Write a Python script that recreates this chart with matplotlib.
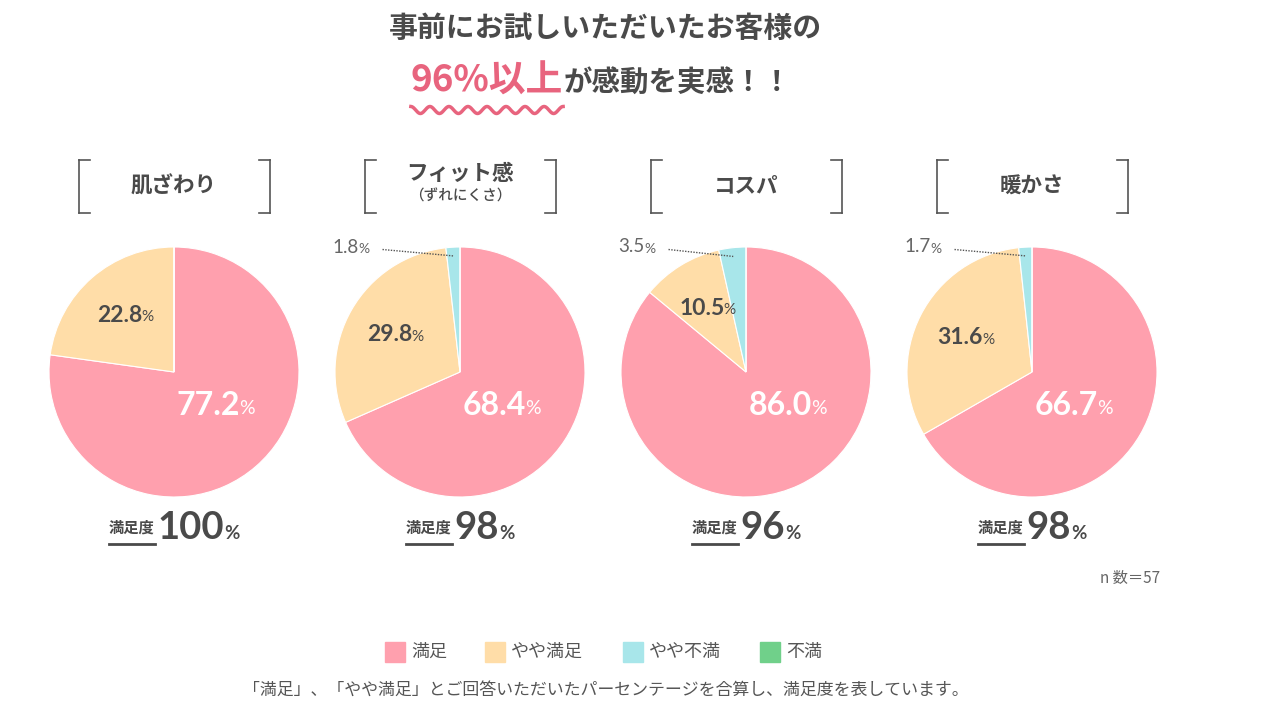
import numpy as np
import matplotlib
matplotlib.use('Agg')
import matplotlib.pyplot as plt

plt.rcParams['font.family'] = ['Noto Sans CJK JP', 'DejaVu Sans']

# data
categories = ['肌ざわり', 'フィット感', 'コスパ', '暖かさ']
subtitles = ['', '（ずれにくさ）', '', '']
answers = ['満足', 'やや満足', 'やや不満', '不満']
manzoku = [77.2, 68.4, 86.0, 66.7]
yaya_manzoku = [22.8, 29.8, 10.5, 31.6]
yaya_fuman = [0.0, 1.8, 3.5, 1.7]
fuman = [0.0, 0.0, 0.0, 0.0]
satisfaction = [100, 98, 96, 98]
n_count = 57

colors = ['#FFA0AE', '#FFDDA8', '#A8E6EA', '#70D08A']
dark = '#4a4a4a'
gray = '#666666'
pink_text = '#E8647E'

W, H = 1263, 728
fig = plt.figure(figsize=(W / 100, H / 100), dpi=100)
fig.patch.set_facecolor('white')
renderer = fig.canvas.get_renderer()


def fx(px):
    return px / W


def fy(py):
    return 1 - py / H


def chain(pieces, cx, y_px, center=True):
    """Draw text pieces left to right sharing a baseline; centre the group on cx."""
    arts = []
    for txt, kw in pieces:
        t = fig.text(0, fy(y_px), txt, va='baseline', ha='left', **kw)
        arts.append(t)
    widths = [a.get_window_extent(renderer).width for a in arts]
    total = sum(widths)
    x = cx - total / 2 if center else cx
    for a, w in zip(arts, widths):
        a.set_x(fx(x))
        x += w
    return arts


# title
fig.text(fx(605), fy(28), '事前にお試しいただいたお客様の', ha='center', va='center',
         fontsize=20.8, fontweight='bold', color=dark)
arts = chain([('96%以上', dict(fontsize=26.5, fontweight='bold', color=pink_text)),
              ('が感動を実感！！', dict(fontsize=20.5, fontweight='bold', color=dark))],
             601, 92)
x0 = arts[0].get_window_extent(renderer).x0
x1 = arts[0].get_window_extent(renderer).x1
wx = np.linspace(x0, x1, 400)
wy = 110 + 3.5 * np.sin((wx - x0) / (x1 - x0) * 2 * np.pi * 8 - np.pi / 2)
fig.add_artist(plt.Line2D(fx(wx), fy(wy), color=pink_text, lw=2.5))

centers = [174, 460, 746, 1032]
cy, R = 372, 125

for i, cx in enumerate(centers):
    # header with brackets
    for side in (-1, 1):
        bx = cx + side * 95.5
        fig.add_artist(plt.Line2D([fx(bx), fx(bx)], [fy(160), fy(213)], color='#555555', lw=1.2))
        for yy in (160, 213):
            fig.add_artist(plt.Line2D([fx(bx), fx(bx - side * 11)], [fy(yy), fy(yy)],
                                      color='#555555', lw=1.2))
    if subtitles[i]:
        fig.text(fx(cx), fy(173), categories[i], ha='center', va='center',
                 fontsize=15.5, fontweight='bold', color=dark)
        fig.text(fx(cx), fy(196), subtitles[i], ha='center', va='center',
                 fontsize=10.5, fontweight='medium', color=dark)
    else:
        fig.text(fx(cx), fy(186), categories[i], ha='center', va='center',
                 fontsize=15.5, fontweight='bold', color=dark)

    # pie
    ax = fig.add_axes([fx(cx - R), fy(cy + R), 2 * R / W, 2 * R / H])
    vals = [manzoku[i], yaya_manzoku[i], yaya_fuman[i], fuman[i]]
    wedges, _ = ax.pie(vals, colors=colors, startangle=90, counterclock=False,
                       wedgeprops=dict(edgecolor='white', linewidth=0.8))
    ax.set_xlim(-1, 1)
    ax.set_ylim(-1, 1)
    ax.set_aspect('equal')
    ax.axis('off')

    # 満足 label (white, fixed spot lower right)
    ax.text(0.53, -0.27, f'{manzoku[i]:.1f}', ha='right', va='center', fontsize=23,
            fontweight='bold', color='white', family='Lato')
    ax.text(0.525, -0.29, '%', ha='left', va='center', fontsize=14,
            color='white', family='Lato')

    # やや満足 label
    w = wedges[1]
    mid = np.deg2rad((w.theta1 + w.theta2) / 2)
    lx, ly = 0.6 * np.cos(mid), 0.6 * np.sin(mid)
    ax.text(lx + 0.14, ly, f'{yaya_manzoku[i]:.1f}', ha='right', va='center', fontsize=16.5,
            fontweight='bold', color=dark, family='Lato')
    ax.text(lx + 0.135, ly - 0.015, '%', ha='left', va='center', fontsize=11,
            color=dark, family='Lato')

    # やや不満 label with leader
    if yaya_fuman[i] > 0:
        w = wedges[2]
        mid = np.deg2rad((w.theta1 + w.theta2) / 2)
        px, py = 0.93 * np.cos(mid), 0.93 * np.sin(mid)
        ax.plot([-0.62, px], [0.98, py], ls=(0, (1, 1)), color='#555555', lw=1, clip_on=False)
        ax.text(-0.81, 1.0, f'{yaya_fuman[i]:.1f}', ha='right', va='center', fontsize=13.5,
                color=gray, family='Lato', clip_on=False)
        ax.text(-0.81, 0.985, '%', ha='left', va='center', fontsize=10,
                color=gray, family='Lato', clip_on=False)

    # satisfaction
    arts = chain([('満足度', dict(fontsize=11, fontweight='bold', color=dark)),
                  (' ', dict(fontsize=9)),
                  (f'{satisfaction[i]}', dict(fontsize=27.5, fontweight='bold', color=dark, family='Lato')),
                  ('%', dict(fontsize=13.5, fontweight='bold', color=dark, family='Lato'))],
                 cx, 539)
    arts[0].set_y(fy(533))
    bb = arts[0].get_window_extent(renderer)
    fig.add_artist(plt.Line2D([fx(bb.x0), fx(bb.x1)], [fy(544), fy(544)], color=dark, lw=2))

fig.text(fx(1160), fy(579), f'n 数＝{n_count}', ha='right', va='center', fontsize=11, color=gray)

# legend
leg_x = [385, 485, 623, 760]
for x, lab, c in zip(leg_x, answers, colors):
    fig.add_artist(plt.Rectangle((fx(x), fy(662)), 20 / W, 20 / H, color=c))
    fig.text(fx(x + 26), fy(652), lab, ha='left', va='center', fontsize=13, color='#555555')

fig.text(fx(606), fy(690), '「満足」、「やや満足」とご回答いただいたパーセンテージを合算し、満足度を表しています。',
         ha='center', va='center', fontsize=12.2, color='#555555')

fig.savefig('out.png', dpi=100, facecolor='white')
